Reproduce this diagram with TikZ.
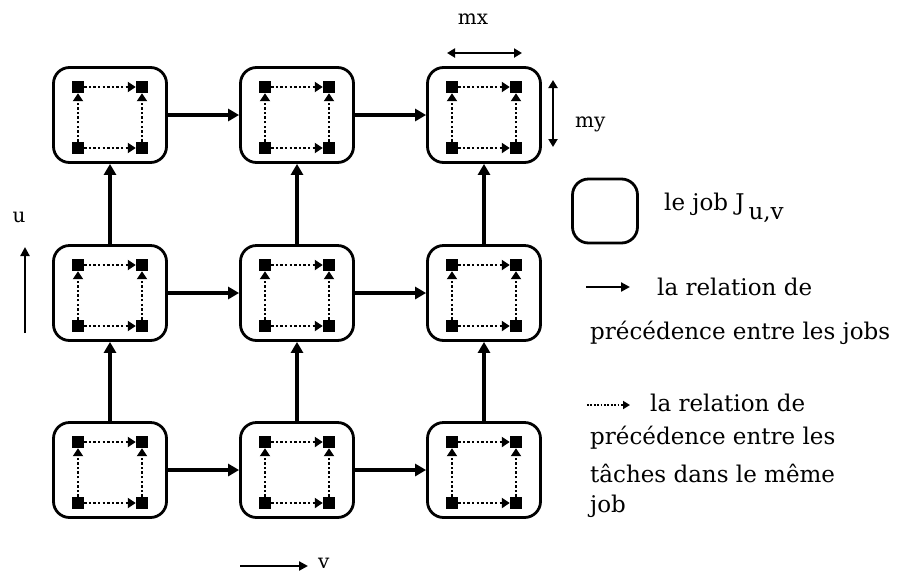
\documentclass[tikz,border=0pt]{standalone}
\usepackage{fontspec}
\setmainfont{DejaVu Serif}
\usetikzlibrary{arrows.meta}
\begin{document}
\begin{tikzpicture}[x=1pt,y=-1pt,
  job/.style={draw,line width=2.8pt,rounded corners=16pt,minimum width=113pt,minimum height=95pt,inner sep=0pt},
  sq/.style={fill=black,minimum size=12pt,inner sep=0pt},
  jobarrow/.style={line width=3.6pt,-{Triangle[length=11pt,width=12pt]}},
  legarrow/.style={line width=2.2pt,-{Triangle[length=9pt,width=9pt]}},
  taskarrow/.style={line width=2.4pt,dash pattern=on 2.4pt off 2.2pt,-{Triangle[length=8pt,width=10pt]}},
  dimarrow/.style={line width=2pt,{Triangle[length=8pt,width=9pt]}-{Triangle[length=8pt,width=9pt]}},
  lbl/.style={font=\fontsize{23}{28}\selectfont,inner sep=0pt},
  small/.style={font=\fontsize{20}{24}\selectfont,inner sep=0pt},
]
\fill[white] (0,0) rectangle (900,574);
\useasboundingbox (0,0) rectangle (900,574);

\foreach \r/\y in {1/115,2/293,3/470}{
  \foreach \c/\x in {1/110,2/297,3/484}{
    \node[job] (b\r\c) at (\x,\y) {};
    \node[sq] (b\r\c-tl) at (\x-32,\y-28) {};
    \node[sq] (b\r\c-tr) at (\x+32,\y-28) {};
    \node[sq] (b\r\c-bl) at (\x-32,\y+33) {};
    \node[sq] (b\r\c-br) at (\x+32,\y+33) {};
    \draw[taskarrow] (b\r\c-tl) -- (b\r\c-tr);
    \draw[taskarrow] (b\r\c-bl) -- (b\r\c-br);
    \draw[taskarrow] (b\r\c-bl) -- (b\r\c-tl);
    \draw[taskarrow] (b\r\c-br) -- (b\r\c-tr);
  }
}

% job precedence arrows
\foreach \r in {1,2,3}{
  \draw[jobarrow] (b\r1) -- (b\r2);
  \draw[jobarrow] (b\r2) -- (b\r3);
}
\foreach \c in {1,2,3}{
  \draw[jobarrow] (b3\c) -- (b2\c);
  \draw[jobarrow] (b2\c) -- (b1\c);
}

% mx / my
\coordinate (mxl) at (447,53);
\coordinate (mxr) at (522,53);
\draw[dimarrow] (mxl) -- (mxr);
\node[small] (mx) at (473,19) {mx};
\coordinate (myt) at (553,80);
\coordinate (myb) at (553,147);
\draw[dimarrow] (myt) -- (myb);
\node[small,anchor=west] (my) at (575,124) {my};

% u / v
\node[small] (u) at (19,217) {u};
\coordinate (ub) at (25,333);
\coordinate (ut) at (25,247);
\draw[legarrow] (ub) -- (ut);
\coordinate (vl) at (240,566);
\coordinate (vr) at (308,566);
\draw[legarrow] (vl) -- (vr);
\node[small,anchor=west] (v) at (318,563) {v};

% legend
\node[job,minimum width=65pt,minimum height=64pt] (leg) at (605,211) {};
\node[lbl,anchor=west] (legt) at (664,208) {le job J\,\raisebox{-9pt}{u,v}};

\coordinate (l1s) at (586,287);
\coordinate (l1e) at (630,287);
\draw[legarrow] (l1s) -- (l1e);
\node[lbl,anchor=west] (t1a) at (657,287) {la relation de};
\node[lbl,anchor=west] (t1b) at (590,333) {précédence entre les jobs};

\coordinate (l2s) at (587,405);
\coordinate (l2e) at (630,405);
\draw[line width=1.8pt,dash pattern=on 1.8pt off 1.6pt,-{Triangle[length=7pt,width=8pt]}] (l2s) -- (l2e);
\node[lbl,anchor=west] (t2a) at (650,403) {la relation de};
\node[lbl,anchor=west] (t2b) at (590,438) {précédence entre les};
\node[lbl,anchor=west] (t2c) at (590,473) {tâches dans le même};
\node[lbl,anchor=west] (t2d) at (590,506) {job};
\end{tikzpicture}
\end{document}
